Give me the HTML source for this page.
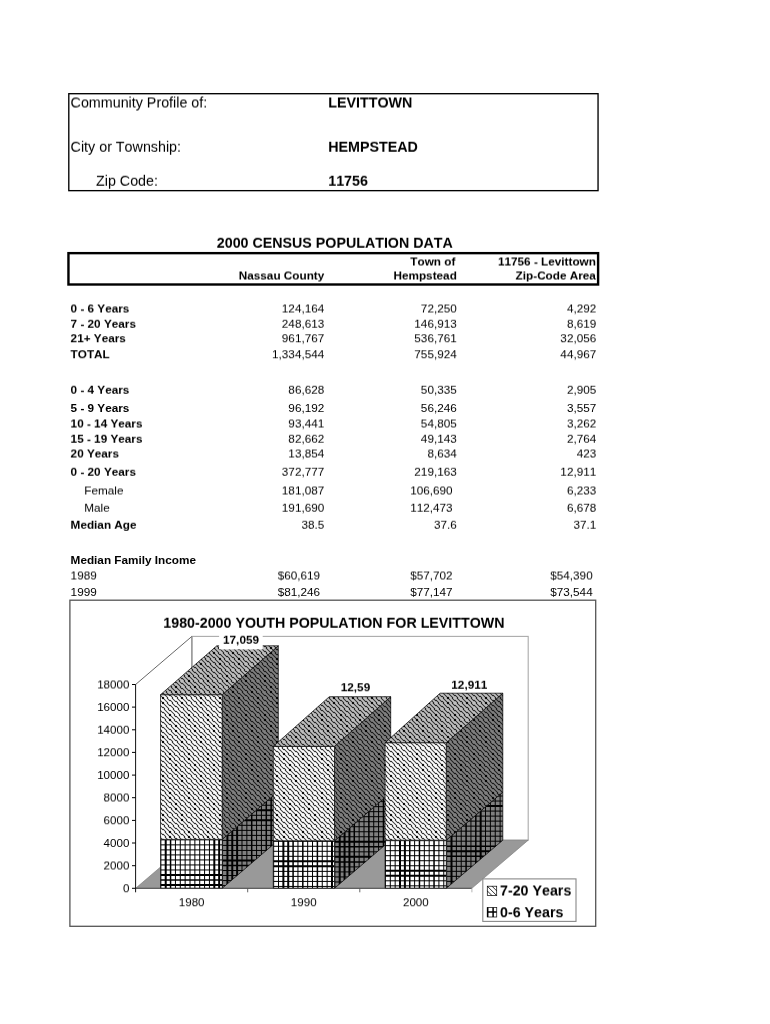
<!DOCTYPE html>
<html><head><meta charset="utf-8"><title>Community Profile</title>
<style>
html,body{margin:0;padding:0;background:#fff;}
body{width:770px;height:1024px;position:relative;overflow:hidden;font-family:"Liberation Sans",sans-serif;font-kerning:none;color:#000;}
.L{position:absolute;left:0;top:0;width:770px;height:1024px;transform-origin:0 0;}
.t{position:absolute;white-space:nowrap;line-height:16px;}
svg text{font-family:"Liberation Sans",sans-serif;font-kerning:none;}
</style></head><body>
<svg width="770" height="1024" viewBox="0 0 770 1024" style="position:absolute;left:0;top:0">
<defs>
<pattern id="h" patternUnits="userSpaceOnUse" width="19" height="39" x="160" y="695"><g fill="#000" shape-rendering="crispEdges"><path d="M16,0h1v1h-1zM3,1h1v1h-1zM9,1h1v1h-1zM4,2h1v1h-1zM8,2h1v1h-1zM13,2h1v1h-1zM15,2h1v1h-1zM18,2h1v1h-1zM1,3h1v1h-1zM6,3h1v1h-1zM11,3h1v1h-1zM16,3h1v1h-1zM2,4h1v1h-1zM10,4h1v1h-1zM16,5h1v1h-1zM3,6h1v1h-1zM9,6h1v1h-1zM4,7h1v1h-1zM8,7h1v1h-1zM13,7h1v1h-1zM15,7h1v1h-1zM18,7h1v1h-1zM1,8h1v1h-1zM6,8h1v1h-1zM11,8h1v1h-1zM16,8h1v1h-1zM2,9h1v1h-1zM10,9h1v1h-1zM16,10h1v1h-1zM3,11h1v1h-1zM9,11h1v1h-1zM15,12h1v1h-1zM0,13h1v1h-1zM2,13h1v1h-1zM5,13h1v1h-1zM9,13h1v1h-1zM14,13h1v1h-1zM3,14h1v1h-1zM7,14h1v1h-1zM10,14h1v1h-1zM12,14h1v1h-1zM17,14h1v1h-1zM16,15h1v1h-1zM3,16h1v1h-1zM9,16h1v1h-1zM15,17h1v1h-1zM2,18h1v1h-1zM10,18h1v1h-1zM1,19h1v1h-1zM6,19h1v1h-1zM11,19h1v1h-1zM15,19h1v1h-1zM4,20h1v1h-1zM8,20h1v1h-1zM13,20h1v1h-1zM16,20h1v1h-1zM18,20h1v1h-1zM3,21h1v1h-1zM9,21h1v1h-1zM15,22h1v1h-1zM2,23h1v1h-1zM10,23h1v1h-1zM1,24h1v1h-1zM6,24h1v1h-1zM11,24h1v1h-1zM15,24h1v1h-1zM4,25h1v1h-1zM8,25h1v1h-1zM13,25h1v1h-1zM16,25h1v1h-1zM18,25h1v1h-1zM3,26h1v1h-1zM9,26h1v1h-1zM15,27h1v1h-1zM2,28h1v1h-1zM10,28h1v1h-1zM16,29h1v1h-1zM2,30h1v1h-1zM7,30h1v1h-1zM9,30h1v1h-1zM12,30h1v1h-1zM17,30h1v1h-1zM0,31h1v1h-1zM3,31h1v1h-1zM5,31h1v1h-1zM10,31h1v1h-1zM14,31h1v1h-1zM15,32h1v1h-1zM2,33h1v1h-1zM10,33h1v1h-1zM16,34h1v1h-1zM2,35h1v1h-1zM7,35h1v1h-1zM9,35h1v1h-1zM12,35h1v1h-1zM17,35h1v1h-1zM0,36h1v1h-1zM3,36h1v1h-1zM5,36h1v1h-1zM10,36h1v1h-1zM14,36h1v1h-1zM15,37h1v1h-1zM2,38h1v1h-1zM10,38h1v1h-1z" fill-opacity="0.10"/><path d="M1,0h1v1h-1zM4,0h1v1h-1zM6,0h1v1h-1zM8,0h1v1h-1zM11,0h1v1h-1zM13,0h1v1h-1zM15,0h1v1h-1zM18,0h1v1h-1zM0,1h1v1h-1zM2,1h1v1h-1zM5,1h1v1h-1zM7,1h1v1h-1zM10,1h1v1h-1zM12,1h1v1h-1zM14,1h1v1h-1zM17,1h1v1h-1zM1,2h1v1h-1zM6,2h1v1h-1zM11,2h1v1h-1zM16,2h1v1h-1zM4,3h1v1h-1zM8,3h1v1h-1zM13,3h1v1h-1zM18,3h1v1h-1zM0,4h1v1h-1zM3,4h1v1h-1zM5,4h1v1h-1zM7,4h1v1h-1zM9,4h1v1h-1zM12,4h1v1h-1zM14,4h1v1h-1zM17,4h1v1h-1zM1,5h1v1h-1zM4,5h1v1h-1zM6,5h1v1h-1zM8,5h1v1h-1zM11,5h1v1h-1zM13,5h1v1h-1zM15,5h1v1h-1zM18,5h1v1h-1zM0,6h1v1h-1zM2,6h1v1h-1zM5,6h1v1h-1zM7,6h1v1h-1zM10,6h1v1h-1zM12,6h1v1h-1zM14,6h1v1h-1zM17,6h1v1h-1zM1,7h1v1h-1zM6,7h1v1h-1zM11,7h1v1h-1zM16,7h1v1h-1zM4,8h1v1h-1zM8,8h1v1h-1zM13,8h1v1h-1zM18,8h1v1h-1zM0,9h1v1h-1zM3,9h1v1h-1zM5,9h1v1h-1zM7,9h1v1h-1zM9,9h1v1h-1zM12,9h1v1h-1zM14,9h1v1h-1zM17,9h1v1h-1zM1,10h1v1h-1zM4,10h1v1h-1zM6,10h1v1h-1zM8,10h1v1h-1zM11,10h1v1h-1zM13,10h1v1h-1zM15,10h1v1h-1zM18,10h1v1h-1zM0,11h1v1h-1zM2,11h1v1h-1zM5,11h1v1h-1zM7,11h1v1h-1zM10,11h1v1h-1zM12,11h1v1h-1zM14,11h1v1h-1zM17,11h1v1h-1zM1,12h1v1h-1zM4,12h1v1h-1zM6,12h1v1h-1zM8,12h1v1h-1zM11,12h1v1h-1zM13,12h1v1h-1zM16,12h1v1h-1zM18,12h1v1h-1zM3,13h1v1h-1zM7,13h1v1h-1zM12,13h1v1h-1zM17,13h1v1h-1zM0,14h1v1h-1zM5,14h1v1h-1zM9,14h1v1h-1zM14,14h1v1h-1zM1,15h1v1h-1zM4,15h1v1h-1zM6,15h1v1h-1zM8,15h1v1h-1zM11,15h1v1h-1zM13,15h1v1h-1zM15,15h1v1h-1zM18,15h1v1h-1zM0,16h1v1h-1zM2,16h1v1h-1zM5,16h1v1h-1zM7,16h1v1h-1zM10,16h1v1h-1zM12,16h1v1h-1zM14,16h1v1h-1zM17,16h1v1h-1zM1,17h1v1h-1zM4,17h1v1h-1zM6,17h1v1h-1zM8,17h1v1h-1zM11,17h1v1h-1zM13,17h1v1h-1zM16,17h1v1h-1zM18,17h1v1h-1zM0,18h1v1h-1zM3,18h1v1h-1zM5,18h1v1h-1zM7,18h1v1h-1zM9,18h1v1h-1zM12,18h1v1h-1zM14,18h1v1h-1zM17,18h1v1h-1zM4,19h1v1h-1zM8,19h1v1h-1zM13,19h1v1h-1zM18,19h1v1h-1zM1,20h1v1h-1zM6,20h1v1h-1zM11,20h1v1h-1zM15,20h1v1h-1zM0,21h1v1h-1zM2,21h1v1h-1zM5,21h1v1h-1zM7,21h1v1h-1zM10,21h1v1h-1zM12,21h1v1h-1zM14,21h1v1h-1zM17,21h1v1h-1zM1,22h1v1h-1zM4,22h1v1h-1zM6,22h1v1h-1zM8,22h1v1h-1zM11,22h1v1h-1zM13,22h1v1h-1zM16,22h1v1h-1zM18,22h1v1h-1zM0,23h1v1h-1zM3,23h1v1h-1zM5,23h1v1h-1zM7,23h1v1h-1zM9,23h1v1h-1zM12,23h1v1h-1zM14,23h1v1h-1zM17,23h1v1h-1zM4,24h1v1h-1zM8,24h1v1h-1zM13,24h1v1h-1zM18,24h1v1h-1zM1,25h1v1h-1zM6,25h1v1h-1zM11,25h1v1h-1zM15,25h1v1h-1zM0,26h1v1h-1zM2,26h1v1h-1zM5,26h1v1h-1zM7,26h1v1h-1zM10,26h1v1h-1zM12,26h1v1h-1zM14,26h1v1h-1zM17,26h1v1h-1zM1,27h1v1h-1zM4,27h1v1h-1zM6,27h1v1h-1zM8,27h1v1h-1zM11,27h1v1h-1zM13,27h1v1h-1zM16,27h1v1h-1zM18,27h1v1h-1zM0,28h1v1h-1zM3,28h1v1h-1zM5,28h1v1h-1zM7,28h1v1h-1zM9,28h1v1h-1zM12,28h1v1h-1zM14,28h1v1h-1zM17,28h1v1h-1zM1,29h1v1h-1zM4,29h1v1h-1zM6,29h1v1h-1zM8,29h1v1h-1zM11,29h1v1h-1zM13,29h1v1h-1zM15,29h1v1h-1zM18,29h1v1h-1zM0,30h1v1h-1zM5,30h1v1h-1zM10,30h1v1h-1zM14,30h1v1h-1zM2,31h1v1h-1zM7,31h1v1h-1zM12,31h1v1h-1zM17,31h1v1h-1zM1,32h1v1h-1zM4,32h1v1h-1zM6,32h1v1h-1zM8,32h1v1h-1zM11,32h1v1h-1zM13,32h1v1h-1zM16,32h1v1h-1zM18,32h1v1h-1zM0,33h1v1h-1zM3,33h1v1h-1zM5,33h1v1h-1zM7,33h1v1h-1zM9,33h1v1h-1zM12,33h1v1h-1zM14,33h1v1h-1zM17,33h1v1h-1zM1,34h1v1h-1zM4,34h1v1h-1zM6,34h1v1h-1zM8,34h1v1h-1zM11,34h1v1h-1zM13,34h1v1h-1zM15,34h1v1h-1zM18,34h1v1h-1zM0,35h1v1h-1zM5,35h1v1h-1zM10,35h1v1h-1zM14,35h1v1h-1zM2,36h1v1h-1zM7,36h1v1h-1zM12,36h1v1h-1zM17,36h1v1h-1zM1,37h1v1h-1zM4,37h1v1h-1zM6,37h1v1h-1zM8,37h1v1h-1zM11,37h1v1h-1zM13,37h1v1h-1zM16,37h1v1h-1zM18,37h1v1h-1zM0,38h1v1h-1zM3,38h1v1h-1zM5,38h1v1h-1zM7,38h1v1h-1zM9,38h1v1h-1zM12,38h1v1h-1zM14,38h1v1h-1zM17,38h1v1h-1z" fill-opacity="0.20"/><path d="M0,0h1v1h-1zM5,0h1v1h-1zM14,0h1v1h-1zM1,1h1v1h-1zM6,1h1v1h-1zM11,1h1v1h-1zM4,4h1v1h-1zM8,4h1v1h-1zM13,4h1v1h-1zM18,4h1v1h-1zM0,5h1v1h-1zM5,5h1v1h-1zM14,5h1v1h-1zM1,6h1v1h-1zM6,6h1v1h-1zM11,6h1v1h-1zM4,9h1v1h-1zM8,9h1v1h-1zM13,9h1v1h-1zM18,9h1v1h-1zM0,10h1v1h-1zM5,10h1v1h-1zM14,10h1v1h-1zM1,11h1v1h-1zM6,11h1v1h-1zM11,11h1v1h-1zM7,12h1v1h-1zM12,12h1v1h-1zM17,12h1v1h-1zM0,15h1v1h-1zM5,15h1v1h-1zM14,15h1v1h-1zM1,16h1v1h-1zM6,16h1v1h-1zM11,16h1v1h-1zM7,17h1v1h-1zM12,17h1v1h-1zM17,17h1v1h-1zM4,18h1v1h-1zM8,18h1v1h-1zM13,18h1v1h-1zM18,18h1v1h-1zM1,21h1v1h-1zM6,21h1v1h-1zM11,21h1v1h-1zM7,22h1v1h-1zM12,22h1v1h-1zM17,22h1v1h-1zM4,23h1v1h-1zM8,23h1v1h-1zM13,23h1v1h-1zM18,23h1v1h-1zM1,26h1v1h-1zM6,26h1v1h-1zM11,26h1v1h-1zM7,27h1v1h-1zM12,27h1v1h-1zM17,27h1v1h-1zM4,28h1v1h-1zM8,28h1v1h-1zM13,28h1v1h-1zM18,28h1v1h-1zM0,29h1v1h-1zM5,29h1v1h-1zM14,29h1v1h-1zM7,32h1v1h-1zM12,32h1v1h-1zM17,32h1v1h-1zM4,33h1v1h-1zM8,33h1v1h-1zM13,33h1v1h-1zM18,33h1v1h-1zM0,34h1v1h-1zM5,34h1v1h-1zM14,34h1v1h-1zM7,37h1v1h-1zM12,37h1v1h-1zM17,37h1v1h-1zM4,38h1v1h-1zM8,38h1v1h-1zM13,38h1v1h-1zM18,38h1v1h-1z" fill-opacity="0.70"/><path d="M9,0h2v1h-2zM15,1h2v1h-2zM7,2h1v1h-1zM12,2h1v1h-1zM17,2h1v1h-1zM7,3h1v1h-1zM12,3h1v1h-1zM17,3h1v1h-1zM9,5h2v1h-2zM15,6h2v1h-2zM7,7h1v1h-1zM12,7h1v1h-1zM17,7h1v1h-1zM7,8h1v1h-1zM12,8h1v1h-1zM17,8h1v1h-1zM9,10h2v1h-2zM15,11h2v1h-2zM2,12h2v1h-2zM4,13h1v1h-1zM8,13h1v1h-1zM13,13h1v1h-1zM18,13h1v1h-1zM4,14h1v1h-1zM8,14h1v1h-1zM13,14h1v1h-1zM18,14h1v1h-1zM9,15h2v1h-2zM15,16h2v1h-2zM2,17h2v1h-2zM0,19h1v1h-1zM5,19h1v1h-1zM14,19h1v1h-1zM0,20h1v1h-1zM5,20h1v1h-1zM14,20h1v1h-1zM15,21h2v1h-2zM2,22h2v1h-2zM0,24h1v1h-1zM5,24h1v1h-1zM14,24h1v1h-1zM0,25h1v1h-1zM5,25h1v1h-1zM14,25h1v1h-1zM15,26h2v1h-2zM2,27h2v1h-2zM9,29h2v1h-2zM1,30h1v1h-1zM6,30h1v1h-1zM11,30h1v1h-1zM1,31h1v1h-1zM6,31h1v1h-1zM11,31h1v1h-1zM2,32h2v1h-2zM9,34h2v1h-2zM1,35h1v1h-1zM6,35h1v1h-1zM11,35h1v1h-1zM1,36h1v1h-1zM6,36h1v1h-1zM11,36h1v1h-1zM2,37h2v1h-2z" fill-opacity="0.80"/><path d="M3,2h1v1h-1zM2,3h1v1h-1zM3,7h1v1h-1zM2,8h1v1h-1zM10,19h1v1h-1zM9,20h1v1h-1zM10,24h1v1h-1zM9,25h1v1h-1zM16,30h1v1h-1zM15,31h1v1h-1zM16,35h1v1h-1zM15,36h1v1h-1z" fill-opacity="0.90"/><path d="M2,2h1v1h-1zM3,3h1v1h-1zM2,7h1v1h-1zM3,8h1v1h-1zM9,19h1v1h-1zM10,20h1v1h-1zM9,24h1v1h-1zM10,25h1v1h-1zM15,30h1v1h-1zM16,31h1v1h-1zM15,35h1v1h-1zM16,36h1v1h-1z" fill-opacity="1.00"/></g></pattern>
</defs>
<rect x="68.8" y="93.7" width="529.25" height="96.95" fill="none" stroke="#000" stroke-width="1.35"/>
<rect x="68.45" y="253.15" width="529.65" height="31.35" fill="none" stroke="#000" stroke-width="2.4"/>
<rect x="69.9" y="600.2" width="525.8" height="326.1" fill="#fff" stroke="#555" stroke-width="1.3"/>
<rect x="191.9" y="636.4" width="336.3" height="203.8" fill="#fff" stroke="#aaa" stroke-width="1.1"/>
<path d="M135.6,684.5L191.9,636.4" stroke="#555" stroke-width="0.9" fill="none"/>
<path d="M191.9,636.4V840.2" stroke="#888" stroke-width="1.1" fill="none"/>
<polygon points="135.6,888.3 471.9,888.3 528.2,840.2 191.9,840.2" fill="#999" stroke="#777" stroke-width="0.6"/>
<polygon points="222.2,888.3 222.2,839.4 278.3,791.3 278.3,840.2" fill="#808080" />
<clipPath id="c1"><polygon points="222.2,888.3 222.2,839.4 278.3,791.3 278.3,840.2"/></clipPath>
<g clip-path="url(#c1)" stroke="#000" fill="none"><path d="M222.55,791.3V888.3M241.99,791.3V888.3M246.85,791.3V888.3M256.57,791.3V888.3M261.43,791.3V888.3M276.01,791.3V888.3M222.2,795.22H278.3M222.2,800.24H278.3M222.2,805.26H278.3M222.2,815.30H278.3M222.2,825.34H278.3M222.2,830.36H278.3M222.2,835.38H278.3M222.2,840.40H278.3M222.2,845.42H278.3M222.2,850.44H278.3M222.2,855.46H278.3M222.2,870.52H278.3M222.2,875.54H278.3M222.2,880.56H278.3M222.2,885.58H278.3" stroke-width="1.0"/><path d="M251.71,791.3V888.3M266.29,791.3V888.3M271.15,791.3V888.3M222.2,865.50H278.3" stroke-width="1.5"/><path d="M227.41,791.3V888.3M232.27,791.3V888.3M237.13,791.3V888.3M222.2,810.28H278.3M222.2,820.32H278.3M222.2,860.48H278.3" stroke-width="2.0"/></g>
<polygon points="222.2,888.3 222.2,839.4 278.3,791.3 278.3,840.2" fill="none" stroke="#000" stroke-width="0.7"/>
<polygon points="222.2,839.4 222.2,694.7 278.3,645.8 278.3,791.3" fill="#808080" />
<polygon points="222.2,839.4 222.2,694.7 278.3,645.8 278.3,791.3" fill="url(#h)" />
<polygon points="222.2,839.4 222.2,694.7 278.3,645.8 278.3,791.3" fill="none" stroke="#000" stroke-width="0.7"/>
<polygon points="160.5,888.3 160.5,839.4 222.2,839.4 222.2,888.3" fill="#fff" />
<clipPath id="c2"><polygon points="160.5,888.3 160.5,839.4 222.2,839.4 222.2,888.3"/></clipPath>
<g clip-path="url(#c2)" stroke="#000" fill="none"><path d="M160.85,839.4V888.3M175.43,839.4V888.3M180.29,839.4V888.3M185.15,839.4V888.3M190.01,839.4V888.3M194.87,839.4V888.3M199.73,839.4V888.3M204.59,839.4V888.3M209.45,839.4V888.3M160.5,839.85H222.2M160.5,844.87H222.2M160.5,849.89H222.2M160.5,854.91H222.2M160.5,859.93H222.2M160.5,864.95H222.2M160.5,869.97H222.2" stroke-width="1.0"/><path d="M170.57,839.4V888.3M160.5,880.01H222.2" stroke-width="1.5"/><path d="M165.71,839.4V888.3M214.31,839.4V888.3M219.17,839.4V888.3M160.5,874.99H222.2M160.5,885.03H222.2" stroke-width="2.0"/></g>
<polygon points="160.5,888.3 160.5,839.4 222.2,839.4 222.2,888.3" fill="none" stroke="#000" stroke-width="0.7"/>
<polygon points="160.5,839.4 160.5,694.7 222.2,694.7 222.2,839.4" fill="#fff" />
<polygon points="160.5,839.4 160.5,694.7 222.2,694.7 222.2,839.4" fill="url(#h)" />
<polygon points="160.5,839.4 160.5,694.7 222.2,694.7 222.2,839.4" fill="none" stroke="#000" stroke-width="0.7"/>
<polygon points="160.5,694.7 216.8,645.8 278.3,645.8 222.2,694.7" fill="#c0c0c0" />
<polygon points="160.5,694.7 216.8,645.8 278.3,645.8 222.2,694.7" fill="url(#h)" />
<polygon points="160.5,694.7 216.8,645.8 278.3,645.8 222.2,694.7" fill="none" stroke="#000" stroke-width="0.7"/>
<polygon points="334.5,888.3 334.5,840.8 390.7,792.7 390.7,840.2" fill="#808080" />
<clipPath id="c3"><polygon points="334.5,888.3 334.5,840.8 390.7,792.7 390.7,840.2"/></clipPath>
<g clip-path="url(#c3)" stroke="#000" fill="none"><path d="M334.85,792.7V888.3M359.15,792.7V888.3M364.01,792.7V888.3M373.73,792.7V888.3M378.59,792.7V888.3M388.31,792.7V888.3M334.5,796.62H390.7M334.5,801.64H390.7M334.5,806.66H390.7M334.5,811.68H390.7M334.5,816.70H390.7M334.5,821.72H390.7M334.5,826.74H390.7M334.5,831.76H390.7M334.5,836.78H390.7M334.5,851.84H390.7M334.5,866.90H390.7M334.5,871.92H390.7M334.5,876.94H390.7M334.5,881.96H390.7M334.5,886.98H390.7" stroke-width="1.0"/><path d="M354.29,792.7V888.3M368.87,792.7V888.3M383.45,792.7V888.3M334.5,846.82H390.7M334.5,861.88H390.7" stroke-width="1.5"/><path d="M339.71,792.7V888.3M344.57,792.7V888.3M349.43,792.7V888.3M334.5,841.80H390.7M334.5,856.86H390.7" stroke-width="2.0"/></g>
<polygon points="334.5,888.3 334.5,840.8 390.7,792.7 390.7,840.2" fill="none" stroke="#000" stroke-width="0.7"/>
<polygon points="334.5,840.8 334.5,746.4 390.7,696.7 390.7,792.7" fill="#808080" />
<polygon points="334.5,840.8 334.5,746.4 390.7,696.7 390.7,792.7" fill="url(#h)" />
<polygon points="334.5,840.8 334.5,746.4 390.7,696.7 390.7,792.7" fill="none" stroke="#000" stroke-width="0.7"/>
<polygon points="273.3,888.3 273.3,840.8 334.5,840.8 334.5,888.3" fill="#fff" />
<clipPath id="c4"><polygon points="273.3,888.3 273.3,840.8 334.5,840.8 334.5,888.3"/></clipPath>
<g clip-path="url(#c4)" stroke="#000" fill="none"><path d="M273.65,840.8V888.3M278.51,840.8V888.3M297.95,840.8V888.3M307.67,840.8V888.3M312.53,840.8V888.3M322.25,840.8V888.3M327.11,840.8V888.3M273.3,841.25H334.5M273.3,846.27H334.5M273.3,851.29H334.5M273.3,856.31H334.5M273.3,871.37H334.5M273.3,876.39H334.5M273.3,881.41H334.5M273.3,886.43H334.5" stroke-width="1.0"/><path d="M293.09,840.8V888.3M302.81,840.8V888.3M317.39,840.8V888.3" stroke-width="1.5"/><path d="M283.37,840.8V888.3M288.23,840.8V888.3M331.97,840.8V888.3M273.3,861.33H334.5M273.3,866.35H334.5" stroke-width="2.0"/></g>
<polygon points="273.3,888.3 273.3,840.8 334.5,840.8 334.5,888.3" fill="none" stroke="#000" stroke-width="0.7"/>
<polygon points="273.3,840.8 273.3,746.4 334.5,746.4 334.5,840.8" fill="#fff" />
<polygon points="273.3,840.8 273.3,746.4 334.5,746.4 334.5,840.8" fill="url(#h)" />
<polygon points="273.3,840.8 273.3,746.4 334.5,746.4 334.5,840.8" fill="none" stroke="#000" stroke-width="0.7"/>
<polygon points="273.3,746.4 329.3,696.7 390.7,696.7 334.5,746.4" fill="#c0c0c0" />
<polygon points="273.3,746.4 329.3,696.7 390.7,696.7 334.5,746.4" fill="url(#h)" />
<polygon points="273.3,746.4 329.3,696.7 390.7,696.7 334.5,746.4" fill="none" stroke="#000" stroke-width="0.7"/>
<polygon points="446.3,888.3 446.3,840.2 502.8,792.1 502.8,840.2" fill="#808080" />
<clipPath id="c5"><polygon points="446.3,888.3 446.3,840.2 502.8,792.1 502.8,840.2"/></clipPath>
<g clip-path="url(#c5)" stroke="#000" fill="none"><path d="M446.65,792.1V888.3M456.37,792.1V888.3M461.23,792.1V888.3M470.95,792.1V888.3M485.53,792.1V888.3M490.39,792.1V888.3M495.25,792.1V888.3M500.11,792.1V888.3M446.3,796.02H502.8M446.3,801.04H502.8M446.3,811.08H502.8M446.3,816.10H502.8M446.3,821.12H502.8M446.3,826.14H502.8M446.3,831.16H502.8M446.3,836.18H502.8M446.3,841.20H502.8M446.3,861.28H502.8M446.3,866.30H502.8M446.3,871.32H502.8M446.3,876.34H502.8M446.3,881.36H502.8M446.3,886.38H502.8" stroke-width="1.0"/><path d="M466.09,792.1V888.3M475.81,792.1V888.3M446.3,846.22H502.8M446.3,856.26H502.8" stroke-width="1.5"/><path d="M451.51,792.1V888.3M480.67,792.1V888.3M446.3,806.06H502.8M446.3,851.24H502.8" stroke-width="2.0"/></g>
<polygon points="446.3,888.3 446.3,840.2 502.8,792.1 502.8,840.2" fill="none" stroke="#000" stroke-width="0.7"/>
<polygon points="446.3,840.2 446.3,742.7 502.8,693.2 502.8,792.1" fill="#808080" />
<polygon points="446.3,840.2 446.3,742.7 502.8,693.2 502.8,792.1" fill="url(#h)" />
<polygon points="446.3,840.2 446.3,742.7 502.8,693.2 502.8,792.1" fill="none" stroke="#000" stroke-width="0.7"/>
<polygon points="385.1,888.3 385.1,840.2 446.3,840.2 446.3,888.3" fill="#fff" />
<clipPath id="c6"><polygon points="385.1,888.3 385.1,840.2 446.3,840.2 446.3,888.3"/></clipPath>
<g clip-path="url(#c6)" stroke="#000" fill="none"><path d="M385.45,840.2V888.3M390.31,840.2V888.3M395.17,840.2V888.3M414.61,840.2V888.3M424.33,840.2V888.3M429.19,840.2V888.3M438.91,840.2V888.3M443.77,840.2V888.3M385.1,840.65H446.3M385.1,845.67H446.3M385.1,850.69H446.3M385.1,855.71H446.3M385.1,860.73H446.3M385.1,865.75H446.3M385.1,880.81H446.3M385.1,885.83H446.3" stroke-width="1.0"/><path d="M409.75,840.2V888.3M419.47,840.2V888.3M434.05,840.2V888.3" stroke-width="1.5"/><path d="M400.03,840.2V888.3M404.89,840.2V888.3M385.1,870.77H446.3M385.1,875.79H446.3" stroke-width="2.0"/></g>
<polygon points="385.1,888.3 385.1,840.2 446.3,840.2 446.3,888.3" fill="none" stroke="#000" stroke-width="0.7"/>
<polygon points="385.1,840.2 385.1,742.7 446.3,742.7 446.3,840.2" fill="#fff" />
<polygon points="385.1,840.2 385.1,742.7 446.3,742.7 446.3,840.2" fill="url(#h)" />
<polygon points="385.1,840.2 385.1,742.7 446.3,742.7 446.3,840.2" fill="none" stroke="#000" stroke-width="0.7"/>
<polygon points="385.1,742.7 440.1,693.2 502.8,693.2 446.3,742.7" fill="#c0c0c0" />
<polygon points="385.1,742.7 440.1,693.2 502.8,693.2 446.3,742.7" fill="url(#h)" />
<polygon points="385.1,742.7 440.1,693.2 502.8,693.2 446.3,742.7" fill="none" stroke="#000" stroke-width="0.7"/>
<path d="M135.6,684.5V892.3" stroke="#111" stroke-width="1" fill="none"/>
<path d="M135.6,888.3H471.9" stroke="#333" stroke-width="0.8" fill="none"/>
<path d="M132.0,888.3H135.6" stroke="#000" stroke-width="1"/>
<path d="M132.0,865.7H135.6" stroke="#000" stroke-width="1"/>
<path d="M132.0,843.0H135.6" stroke="#000" stroke-width="1"/>
<path d="M132.0,820.4H135.6" stroke="#000" stroke-width="1"/>
<path d="M132.0,797.7H135.6" stroke="#000" stroke-width="1"/>
<path d="M132.0,775.1H135.6" stroke="#000" stroke-width="1"/>
<path d="M132.0,752.4H135.6" stroke="#000" stroke-width="1"/>
<path d="M132.0,729.8H135.6" stroke="#000" stroke-width="1"/>
<path d="M132.0,707.1H135.6" stroke="#000" stroke-width="1"/>
<path d="M132.0,684.5H135.6" stroke="#000" stroke-width="1"/>
<path d="M247.7,888.3V892.3" stroke="#555" stroke-width="0.9"/>
<path d="M359.8,888.3V892.3" stroke="#555" stroke-width="0.9"/>
<path d="M471.9,888.3V892.3" stroke="#aaa" stroke-width="0.9"/>
<rect x="219.1" y="633.9" width="43.6" height="15.5" fill="#fff"/>
<rect x="482.8" y="878.9" width="93.2" height="42.5" fill="#fff" stroke="#888" stroke-width="1.1"/>
<rect x="487.3" y="886.2" width="9.4" height="9.4" fill="#fff" stroke="#000" stroke-width="0.7"/>
<path d="M487.3,886.2L496.7,895.6M487.3,890.9L492,895.6M492,886.2L496.7,890.9" stroke="#000" stroke-width="0.8" fill="none"/>
<rect x="487.3" y="907.6" width="9.4" height="9.4" fill="#fff" stroke="#222" stroke-width="0.8"/>
<path d="M493.1,907.6V917M487.3,912.1H496.7M487.7,907.6V917" stroke="#000" stroke-width="1.5" fill="none"/>
</svg>
<div class="L" style="transform:translate3d(0,0.0px,0) rotate(0.001deg);">
<div class="t" style="left:70.60px;top:400px;font-size:11.75px;font-weight:700;">5 - 9 Years</div>
<div class="t" style="right:445.70px;top:400px;font-size:11.75px;">96,192</div>
<div class="t" style="right:313.20px;top:400px;font-size:11.75px;">56,246</div>
<div class="t" style="right:173.70px;top:400px;font-size:11.75px;">3,557</div>
<div class="t" style="left:70.60px;top:552px;font-size:11.75px;font-weight:700;">Median Family Income</div>
<div class="t" style="left:70.60px;top:584px;font-size:11.75px;">1999</div>
<div class="t" style="right:449.90px;top:584px;font-size:11.75px;">$81,246</div>
<div class="t" style="right:317.40px;top:584px;font-size:11.75px;">$77,147</div>
<div class="t" style="right:177.30px;top:584px;font-size:11.75px;">$73,544</div>
<div class="t" style="right:640.60px;top:835px;font-size:11.6px;">4000</div>
<div class="t" style="right:640.60px;top:767px;font-size:11.6px;">10000</div>
<div class="t" style="right:640.60px;top:699px;font-size:11.6px;">16000</div>
</div>
<div class="L" style="transform:translate3d(0,0.25px,0) rotate(0.001deg);">
<div class="t" style="left:70.60px;top:330px;font-size:11.75px;font-weight:700;">21+ Years</div>
<div class="t" style="right:445.70px;top:330px;font-size:11.75px;">961,767</div>
<div class="t" style="right:313.20px;top:330px;font-size:11.75px;">536,761</div>
<div class="t" style="right:173.70px;top:330px;font-size:11.75px;">32,056</div>
<div class="t" style="left:70.60px;top:346px;font-size:11.75px;font-weight:700;">TOTAL</div>
<div class="t" style="right:445.70px;top:346px;font-size:11.75px;">1,334,544</div>
<div class="t" style="right:313.20px;top:346px;font-size:11.75px;">755,924</div>
<div class="t" style="right:173.70px;top:346px;font-size:11.75px;">44,967</div>
<div class="t" style="right:640.60px;top:880px;font-size:11.6px;">0</div>
<div class="t" style="right:640.60px;top:812px;font-size:11.6px;">6000</div>
<div class="t" style="right:640.60px;top:744px;font-size:11.6px;">12000</div>
<div class="t" style="left:91.65px;width:200px;text-align:center;top:894px;font-size:11.6px;">1980</div>
<div class="t" style="left:203.75px;width:200px;text-align:center;top:894px;font-size:11.6px;">1990</div>
<div class="t" style="left:315.85px;width:200px;text-align:center;top:894px;font-size:11.6px;">2000</div>
<div class="t" style="left:340.70px;top:679px;font-size:11.8px;font-weight:700;">12,59</div>
<div class="t" style="left:500.00px;top:904px;font-size:14.25px;font-weight:700;">0-6 Years</div>
</div>
<div class="L" style="transform:translate3d(0,0.5px,0) rotate(0.001deg);">
<div class="t" style="left:70.60px;top:94px;font-size:14.3px;">Community Profile of:</div>
<div class="t" style="left:328.20px;top:94px;font-size:14.3px;font-weight:700;">LEVITTOWN</div>
<div class="t" style="right:445.70px;top:267px;font-size:11.75px;font-weight:700;">Nassau County</div>
<div class="t" style="right:314.70px;top:253px;font-size:11.75px;font-weight:700;">Town of</div>
<div class="t" style="right:313.20px;top:267px;font-size:11.75px;font-weight:700;">Hempstead</div>
<div class="t" style="right:174.10px;top:253px;font-size:11.75px;font-weight:700;">11756 - Levittown</div>
<div class="t" style="right:174.10px;top:267px;font-size:11.75px;font-weight:700;">Zip-Code Area</div>
<div class="t" style="left:70.60px;top:300px;font-size:11.75px;font-weight:700;">0 - 6 Years</div>
<div class="t" style="right:445.70px;top:300px;font-size:11.75px;">124,164</div>
<div class="t" style="right:313.20px;top:300px;font-size:11.75px;">72,250</div>
<div class="t" style="right:173.70px;top:300px;font-size:11.75px;">4,292</div>
<div class="t" style="left:70.60px;top:415px;font-size:11.75px;font-weight:700;">10 - 14 Years</div>
<div class="t" style="right:445.70px;top:415px;font-size:11.75px;">93,441</div>
<div class="t" style="right:313.20px;top:415px;font-size:11.75px;">54,805</div>
<div class="t" style="right:173.70px;top:415px;font-size:11.75px;">3,262</div>
<div class="t" style="left:70.60px;top:445px;font-size:11.75px;font-weight:700;">20 Years</div>
<div class="t" style="right:445.70px;top:445px;font-size:11.75px;">13,854</div>
<div class="t" style="right:313.20px;top:445px;font-size:11.75px;">8,634</div>
<div class="t" style="right:173.70px;top:445px;font-size:11.75px;">423</div>
<div class="t" style="left:84.30px;top:482px;font-size:11.75px;">Female</div>
<div class="t" style="right:445.70px;top:482px;font-size:11.75px;">181,087</div>
<div class="t" style="right:317.40px;top:482px;font-size:11.75px;">106,690</div>
<div class="t" style="right:173.70px;top:482px;font-size:11.75px;">6,233</div>
<div class="t" style="left:70.60px;top:567px;font-size:11.75px;">1989</div>
<div class="t" style="right:449.90px;top:567px;font-size:11.75px;">$60,619</div>
<div class="t" style="right:317.40px;top:567px;font-size:11.75px;">$57,702</div>
<div class="t" style="right:177.30px;top:567px;font-size:11.75px;">$54,390</div>
<div class="t" style="right:640.60px;top:857px;font-size:11.6px;">2000</div>
<div class="t" style="right:640.60px;top:789px;font-size:11.6px;">8000</div>
<div class="t" style="right:640.60px;top:676px;font-size:11.6px;">18000</div>
<div class="t" style="left:500.00px;top:882px;font-size:14.25px;font-weight:700;">7-20 Years</div>
</div>
<div class="L" style="transform:translate3d(0,0.75px,0) rotate(0.001deg);">
<div class="t" style="left:70.60px;top:138px;font-size:14.3px;">City or Township:</div>
<div class="t" style="left:96.00px;top:172px;font-size:14.3px;">Zip Code:</div>
<div class="t" style="left:328.20px;top:138px;font-size:14.3px;font-weight:700;">HEMPSTEAD</div>
<div class="t" style="left:328.20px;top:172px;font-size:14.3px;font-weight:700;">11756</div>
<div class="t" style="left:216.80px;top:234px;font-size:14.25px;font-weight:700;">2000 CENSUS POPULATION DATA</div>
<div class="t" style="left:70.60px;top:315px;font-size:11.75px;font-weight:700;">7 - 20 Years</div>
<div class="t" style="right:445.70px;top:315px;font-size:11.75px;">248,613</div>
<div class="t" style="right:313.20px;top:315px;font-size:11.75px;">146,913</div>
<div class="t" style="right:173.70px;top:315px;font-size:11.75px;">8,619</div>
<div class="t" style="left:70.60px;top:381px;font-size:11.75px;font-weight:700;">0 - 4 Years</div>
<div class="t" style="right:445.70px;top:381px;font-size:11.75px;">86,628</div>
<div class="t" style="right:313.20px;top:381px;font-size:11.75px;">50,335</div>
<div class="t" style="right:173.70px;top:381px;font-size:11.75px;">2,905</div>
<div class="t" style="left:70.60px;top:430px;font-size:11.75px;font-weight:700;">15 - 19 Years</div>
<div class="t" style="right:445.70px;top:430px;font-size:11.75px;">82,662</div>
<div class="t" style="right:313.20px;top:430px;font-size:11.75px;">49,143</div>
<div class="t" style="right:173.70px;top:430px;font-size:11.75px;">2,764</div>
<div class="t" style="left:70.60px;top:463px;font-size:11.75px;font-weight:700;">0 - 20 Years</div>
<div class="t" style="right:445.70px;top:463px;font-size:11.75px;">372,777</div>
<div class="t" style="right:313.20px;top:463px;font-size:11.75px;">219,163</div>
<div class="t" style="right:173.70px;top:463px;font-size:11.75px;">12,911</div>
<div class="t" style="left:84.30px;top:499px;font-size:11.75px;">Male</div>
<div class="t" style="right:445.70px;top:499px;font-size:11.75px;">191,690</div>
<div class="t" style="right:317.40px;top:499px;font-size:11.75px;">112,473</div>
<div class="t" style="right:173.70px;top:499px;font-size:11.75px;">6,678</div>
<div class="t" style="left:70.60px;top:516px;font-size:11.75px;font-weight:700;">Median Age</div>
<div class="t" style="right:445.70px;top:516px;font-size:11.75px;">38.5</div>
<div class="t" style="right:313.20px;top:516px;font-size:11.75px;">37.6</div>
<div class="t" style="right:173.70px;top:516px;font-size:11.75px;">37.1</div>
<div class="t" style="left:163.30px;top:614px;font-size:14.25px;font-weight:700;">1980-2000 YOUTH POPULATION FOR LEVITTOWN</div>
<div class="t" style="right:640.60px;top:721px;font-size:11.6px;">14000</div>
<div class="t" style="left:223.00px;top:631px;font-size:11.8px;font-weight:700;">17,059</div>
<div class="t" style="left:451.30px;top:676px;font-size:11.8px;font-weight:700;">12,911</div>
</div>
</body></html>
